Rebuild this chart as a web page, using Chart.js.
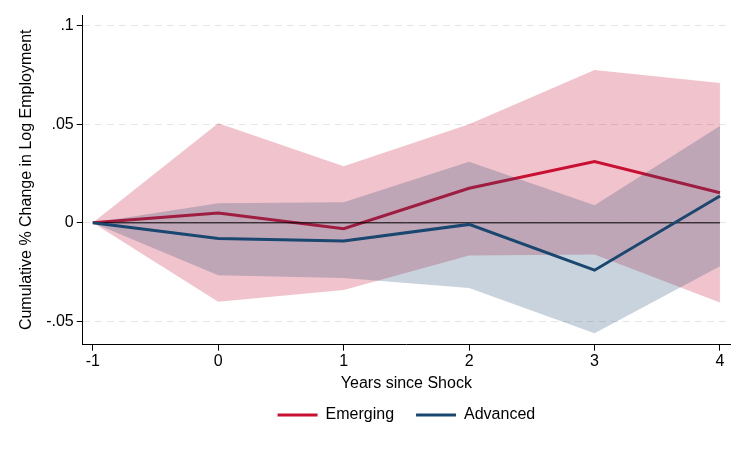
<!DOCTYPE html>
<html>
<head>
<meta charset="utf-8">
<script src="https://cdn.jsdelivr.net/npm/chart.js@4.4.1/dist/chart.umd.min.js"></script>
<style>
  body { margin: 0; background: #fff; }
  #wrap { width: 746px; height: 450px; }
</style>
</head>
<body>
<div id="wrap"><canvas id="myChart"></canvas></div>
<script>
// data
const years = [-1, 0, 1, 2, 3, 4];
const emerging = [0, 0.005, -0.003, 0.0175, 0.031, 0.0152];
const emergingHi = [0, 0.0505, 0.0287, 0.050, 0.0774, 0.0708];
const emergingLo = [0, -0.040, -0.034, -0.0165, -0.016, -0.0404];
const advanced = [0, -0.0079, -0.0092, -0.0008, -0.024, 0.0136];
const advancedHi = [0, 0.0099, 0.0104, 0.031, 0.0089, 0.049];
const advancedLo = [0, -0.0266, -0.028, -0.033, -0.056, -0.022];
const yTicks = [-0.05, 0, 0.05, 0.1];
const yTickLabels = ['-.05', '0', '.05', '.1'];

const red = 'rgb(200, 16, 50)';
const navy = 'rgb(26, 71, 111)';
const pts = (arr) => years.map((x, i) => ({ x: x, y: arr[i] }));

// first dataset is drawn on top
const datasets = [
  { label: 'Advanced', data: pts(advanced), borderColor: navy, borderWidth: 3, pointRadius: 0, fill: false },
  { label: 'zero', data: [{ x: years[0], y: 0 }, { x: years[years.length - 1], y: 0 }], borderColor: '#000', borderWidth: 1, pointRadius: 0, fill: false },
  { label: 'advHi', data: pts(advancedHi), borderWidth: 0, pointRadius: 0, backgroundColor: 'rgba(26, 71, 111, 0.24)', fill: '+1' },
  { label: 'advLo', data: pts(advancedLo), borderWidth: 0, pointRadius: 0, fill: false },
  { label: 'Emerging', data: pts(emerging), borderColor: red, borderWidth: 3, pointRadius: 0, fill: false },
  { label: 'emHi', data: pts(emergingHi), borderWidth: 0, pointRadius: 0, backgroundColor: 'rgba(200, 16, 50, 0.25)', fill: '+1' },
  { label: 'emLo', data: pts(emergingLo), borderWidth: 0, pointRadius: 0, fill: false }
];

const font = { family: 'Liberation Sans, Arial, sans-serif', size: 16 };

// center the legend under the plot area and pull it up a little
const legendUnderPlot = {
  id: 'legendUnderPlot',
  afterLayout(chart) {
    const lg = chart.legend;
    lg.left = chart.chartArea.left;
    lg.right = chart.chartArea.right;
    lg.width = lg.right - lg.left;
    lg.top -= 8;
    lg.bottom -= 8;
  }
};

new Chart(document.getElementById('myChart'), {
  type: 'line',
  data: { datasets: datasets },
  plugins: [legendUnderPlot],
  options: {
    responsive: true,
    maintainAspectRatio: false,
    animation: false,
    layout: { padding: { top: 15, right: 16, left: 17, bottom: 9 } },
    scales: {
      x: {
        type: 'linear',
        min: -1.08,
        max: 4.08,
        afterBuildTicks: (ax) => { ax.ticks = years.map(v => ({ value: v })); },
        ticks: { color: '#000', font: font, padding: 1, callback: (v) => String(v) },
        grid: { display: true, drawOnChartArea: false, color: '#000', tickLength: 6 },
        border: { display: true, color: '#000', width: 1 },
        title: { display: true, text: 'Years since Shock', color: '#000', font: font, padding: { top: 2, bottom: 0 } }
      },
      y: {
        min: -0.0617,
        max: 0.1053,
        afterBuildTicks: (ax) => { ax.ticks = yTicks.map(v => ({ value: v })); },
        ticks: { color: '#000', font: font, padding: 3, callback: (v) => yTickLabels[yTicks.indexOf(v)] },
        grid: { color: '#e6e6e6', tickColor: '#000', tickBorderDash: [], tickLength: 6 },
        border: { display: true, color: '#000', width: 1, dash: [7, 5] },
        title: { display: true, text: 'Cumulative % Change in Log Employment', color: '#000', font: font, padding: { top: 0, bottom: 7 } }
      }
    },
    plugins: {
      tooltip: { enabled: false },
      legend: {
        position: 'bottom',
        labels: {
          color: '#000',
          font: font,
          boxWidth: 40,
          boxHeight: 3,
          padding: 22,
          generateLabels: () => [
            { text: 'Emerging', fillStyle: red, strokeStyle: red, lineWidth: 0, fontColor: '#000' },
            { text: 'Advanced', fillStyle: navy, strokeStyle: navy, lineWidth: 0, fontColor: '#000' }
          ]
        },
        onClick: () => {}
      }
    }
  }
});
</script>
</body>
</html>
